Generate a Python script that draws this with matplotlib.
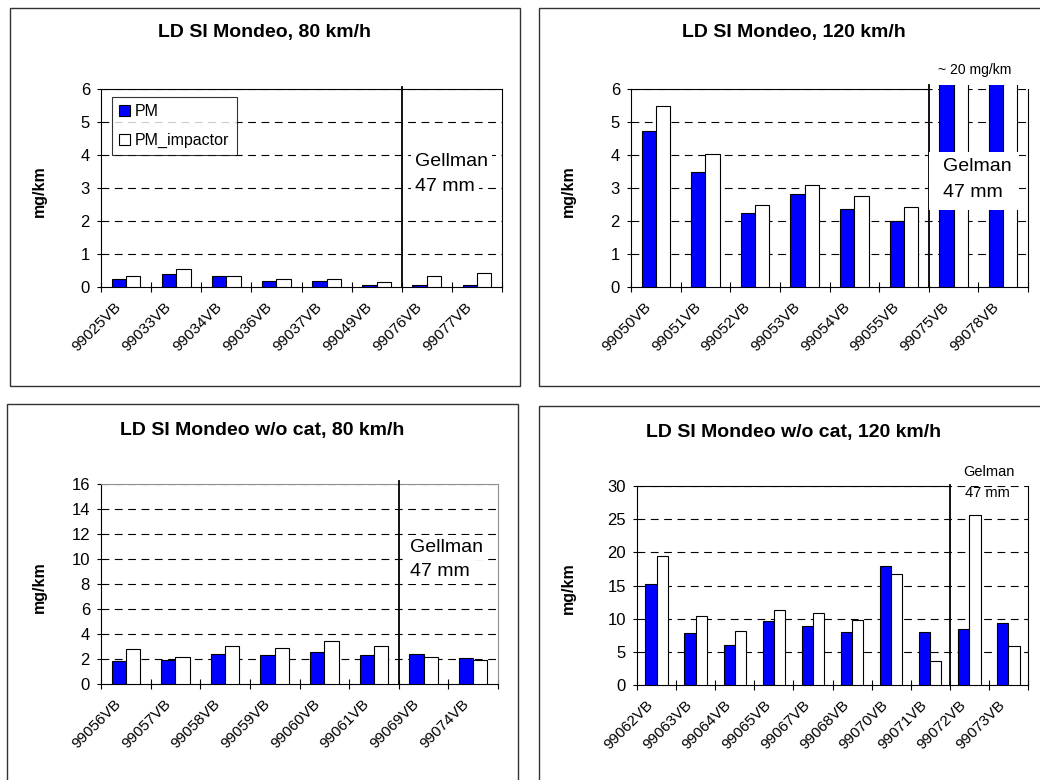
import matplotlib
matplotlib.use("Agg")
import matplotlib.pyplot as plt
import numpy as np
from matplotlib.patches import Rectangle

plt.rcParams["font.family"] = ["Liberation Sans", "DejaVu Sans"]

W, H = 1040, 780

# --- data ---
runs_80 = ["99025VB", "99033VB", "99034VB", "99036VB", "99037VB", "99049VB", "99076VB", "99077VB"]
pm_80 = [0.24, 0.38, 0.33, 0.19, 0.19, 0.05, 0.05, 0.05]
imp_80 = [0.33, 0.55, 0.33, 0.245, 0.245, 0.15, 0.33, 0.42]

runs_120 = ["99050VB", "99051VB", "99052VB", "99053VB", "99054VB", "99055VB", "99075VB", "99078VB"]
pm_120 = [4.73, 3.5, 2.23, 2.82, 2.37, 2.0, 20.0, 20.0]
imp_120 = [5.5, 4.04, 2.49, 3.09, 2.77, 2.41, 20.0, 20.0]

runs_nocat_80 = ["99056VB", "99057VB", "99058VB", "99059VB", "99060VB", "99061VB", "99069VB", "99074VB"]
pm_nocat_80 = [1.85, 1.95, 2.43, 2.33, 2.54, 2.33, 2.43, 2.09]
imp_nocat_80 = [2.8, 2.2, 3.05, 2.91, 3.42, 3.05, 2.19, 1.95]

runs_nocat_120 = ["99062VB", "99063VB", "99064VB", "99065VB", "99067VB", "99068VB",
                  "99070VB", "99071VB", "99072VB", "99073VB"]
pm_nocat_120 = [15.2, 7.9, 6.1, 9.6, 8.85, 7.95, 18.0, 7.95, 8.4, 9.3]
imp_nocat_120 = [19.5, 10.45, 8.2, 11.35, 10.9, 9.8, 16.8, 3.65, 25.6, 5.9]

BLUE = "#0000ff"
BAR_W = 0.286


def px_axes(fig, x0, y0, x1, y1):
    return fig.add_axes([x0 / W, 1 - y1 / H, (x1 - x0) / W, (y1 - y0) / H])


def panel_box(fig, x0, y0, x1, y1):
    fig.patches.append(Rectangle((x0 / W, 1 - y1 / H), (x1 - x0) / W, (y1 - y0) / H,
                                 transform=fig.transFigure, fill=False,
                                 ec="#333333", lw=1.0, zorder=0))


def draw_panel(ax, runs, pm, imp, ymax, ystep, sep, clip_top=None, sep_top=1.01):
    x = np.arange(len(runs))
    b1 = ax.bar(x - BAR_W / 2, pm, BAR_W, color=BLUE, edgecolor="black", lw=0.8,
                label="PM", zorder=3)
    b2 = ax.bar(x + BAR_W / 2, imp, BAR_W, color="white", edgecolor="black", lw=0.8,
                label="PM_impactor", zorder=3)
    if clip_top is not None:
        # off-scale bars run a little past the top of the plot, then stop
        clip = Rectangle((0, 0), 1, clip_top, transform=ax.transAxes)
        for p in list(b1) + list(b2):
            p.set_clip_path(clip)

    ax.set_xlim(-0.5, len(runs) - 0.5)
    ax.set_ylim(0, ymax)
    yt = np.arange(0, ymax + ystep / 2, ystep)
    ax.set_yticks(yt)
    ax.set_yticklabels([f"{int(v)}" for v in yt], fontsize=12)
    for v in yt[1:]:
        ax.axhline(v, color="black", lw=0.8, ls=(0, (7, 5)), zorder=1)

    # labels sit a bit left of the category centre, like the Excel original
    ax.set_xticks(x - 0.14)
    ax.set_xticklabels(runs, rotation=45, ha="right", va="center",
                       rotation_mode="anchor", fontsize=11)
    ax.set_xticks(np.arange(-0.5, len(runs)), minor=True)
    ax.tick_params(axis="x", which="major", length=0, pad=13)
    ax.tick_params(axis="x", which="minor", direction="inout", length=7, width=0.8)
    ax.tick_params(axis="y", direction="out", length=3, width=0.8, pad=5)
    for s in ax.spines.values():
        s.set_linewidth(0.8)

    ax.plot([sep, sep], [0, sep_top], transform=ax.get_xaxis_transform(),
            color="black", lw=1.3, clip_on=False, zorder=4)
    return b1, b2


def ylabel(fig, xc, yc):
    fig.text(xc / W, 1 - yc / H, "mg/km", rotation=90, ha="center", va="center",
             fontsize=11.5, fontweight="bold")


def note(ax, x, y, s, size=14, box=True):
    kw = {}
    if box:
        kw["bbox"] = dict(facecolor="white", edgecolor="none", pad=3)
    ax.text(x, y, s, fontsize=size, va="baseline", ha="left", zorder=6, **kw)


fig = plt.figure(figsize=(W / 100, H / 100), dpi=100)
fig.patch.set_facecolor("white")

panel_box(fig, 10, 8, 520, 386)
panel_box(fig, 539, 8, 1045, 386)
panel_box(fig, 7, 404, 518, 790)
panel_box(fig, 539, 406, 1045, 790)

# top left
ax1 = px_axes(fig, 101, 89, 502, 287)
b1, b2 = draw_panel(ax1, runs_80, pm_80, imp_80, 6, 1, 5.5, sep_top=1.012)
fig.text(265 / W, 1 - 33 / H, "LD SI Mondeo, 80 km/h", ha="center", va="center",
         fontsize=14, fontweight="bold")
ylabel(fig, 39, 191)
leg = ax1.legend(handles=[b1, b2], loc="upper left", bbox_to_anchor=(0.027, 0.96),
                 fontsize=11.5, frameon=True, fancybox=False, handlelength=0.7,
                 handleheight=0.7, handletextpad=0.3, borderpad=0.45, labelspacing=0.85,
                 borderaxespad=0)
leg.get_frame().set_edgecolor("black")
leg.get_frame().set_linewidth(0.8)
note(ax1, 5.77, 3.67, "Gellman")
note(ax1, 5.77, 2.91, "47 mm")

# top right
ax2 = px_axes(fig, 631, 89, 1028, 287)
draw_panel(ax2, runs_120, pm_120, imp_120, 6, 1, 5.5, clip_top=1.02, sep_top=1.02)
ax2.spines["top"].set_bounds(-0.5, 5.5)
fig.text(794 / W, 1 - 33 / H, "LD SI Mondeo, 120 km/h", ha="center", va="center",
         fontsize=14, fontweight="bold")
ylabel(fig, 568, 191)
fig.text(975 / W, 1 - 70 / H, "~ 20 mg/km", ha="center", va="center", fontsize=10)
ax2.add_patch(Rectangle((5.51, 2.33), 1.8, 1.76, facecolor="white", edgecolor="none",
                        zorder=5))
note(ax2, 5.79, 3.52, "Gelman", box=False)
note(ax2, 5.79, 2.73, "47 mm", box=False)

# bottom left
ax3 = px_axes(fig, 101, 484, 498, 684)
draw_panel(ax3, runs_nocat_80, pm_nocat_80, imp_nocat_80, 16, 2, 5.5, sep_top=1.015)
ax3.spines["top"].set_color("#909090")
ax3.spines["right"].set_color("#909090")
fig.text(262 / W, 1 - 430 / H, "LD SI Mondeo w/o cat, 80 km/h", ha="center", va="center",
         fontsize=14, fontweight="bold")
ylabel(fig, 39, 587)
note(ax3, 5.73, 10.56, "Gellman")
note(ax3, 5.73, 8.64, "47 mm")

# bottom right
ax4 = px_axes(fig, 637, 486, 1028, 685)
draw_panel(ax4, runs_nocat_120, pm_nocat_120, imp_nocat_120, 30, 5, 7.5, sep_top=1.005)
ax4.spines["top"].set_bounds(-0.5, 7.5)
fig.text(794 / W, 1 - 432 / H, "LD SI Mondeo w/o cat, 120 km/h", ha="center", va="center",
         fontsize=14, fontweight="bold")
ylabel(fig, 568, 588)
fig.text(963 / W, 1 - 472 / H, "Gelman", ha="left", va="center", fontsize=10.5)
fig.text(965 / W, 1 - 493 / H, "47 mm", ha="left", va="center", fontsize=10.5)

fig.savefig("out.png", dpi=100, facecolor="white")
